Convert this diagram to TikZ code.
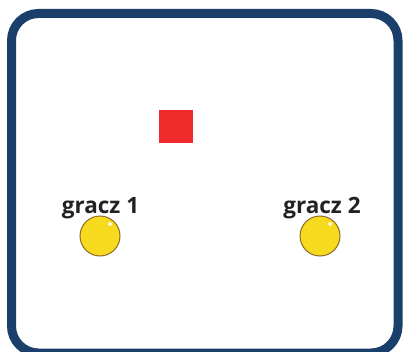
\documentclass[tikz,border=0pt]{standalone}
\usepackage{fontspec}
\setmainfont{Open Sans}
\definecolor{navy}{HTML}{1B3F6B}
\definecolor{boxred}{HTML}{EE2A2A}
\definecolor{ballyellow}{HTML}{F7DA1E}
\definecolor{balledge}{HTML}{8A6A2A}
\definecolor{labelgray}{HTML}{222222}
\tikzset{
  frame/.style={draw=navy, line width=9pt, rounded corners=27pt},
  ball/.style={circle, fill=ballyellow, draw=balledge, line width=1pt, minimum size=40pt, inner sep=0pt},
  shine/.style={circle, fill=white, fill opacity=0.8, minimum size=4pt, inner sep=0pt},
  playerlabel/.style={font=\bfseries\fontsize{22.5}{24}\selectfont, text=labelgray, inner sep=0pt, anchor=base},
  target/.style={fill=boxred, minimum width=34pt, minimum height=33pt, inner sep=0pt}
}
\begin{document}
\begin{tikzpicture}[x=1pt, y=-1pt]
\useasboundingbox (0,0) rectangle (403,352);
\fill[white] (0,0) rectangle (403,352);
\draw[frame] (11.5,13.5) rectangle (398,353);
\node[target] (sq) at (176,126.5) {};
\node[playerlabel] (l1) at (100.5,213) {gracz 1};
\node[playerlabel] (l2) at (322,213) {gracz 2};
\node[ball] (b1) at (100,236) {};
\node[ball] (b2) at (320,236) {};
\node[shine] (s1) at (110,224) {};
\node[shine] (s2) at (330,224) {};
\end{tikzpicture}
\end{document}
